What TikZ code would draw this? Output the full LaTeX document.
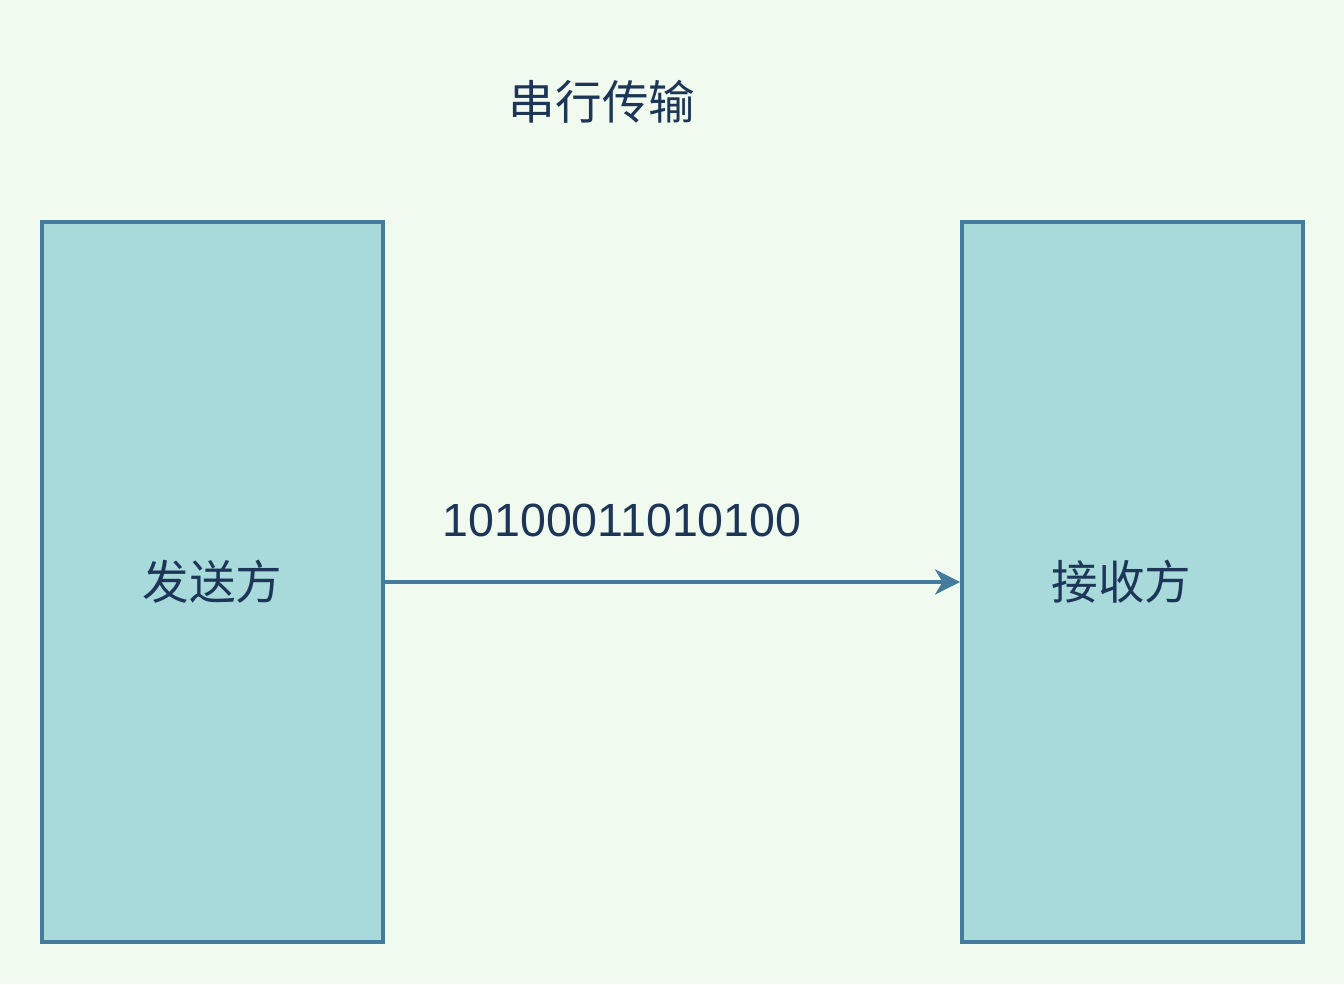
\documentclass[tikz,border=0pt]{standalone}
\usepackage{fontspec}
\setmainfont{Liberation Sans}
\newfontfamily\cjk{Noto Sans CJK SC}
\usetikzlibrary{arrows.meta}
\definecolor{bgcol}{HTML}{F1FAEE}
\definecolor{boxcol}{HTML}{A8DADC}
\definecolor{linecol}{HTML}{457B9D}
\definecolor{txtcol}{HTML}{1D3557}

\begin{document}
\begin{tikzpicture}[
  party/.style={draw=linecol, fill=boxcol, line width=2.2pt, minimum width=6.82cm, minimum height=14.4cm, inner sep=0pt, text=txtcol, font=\cjk\fontsize{26.5}{30}\selectfont},
  lbl/.style={text=txtcol, font=\fontsize{26.5}{30}\selectfont}
]
\fill[bgcol] (0,0) rectangle (26.88,19.68);
\useasboundingbox (0,0) rectangle (26.88,19.68);

\node[lbl, font=\cjk\fontsize{26.5}{30}\selectfont] (title) at (12.04,17.64) {串行传输};

\node[party] (sender) at (4.25,8.04) {发送方};
\node[party, text width=6.82cm, align=center, xshift=0cm] (receiver) at (22.65,8.04) {\hspace*{-0.44cm}接收方};

\node[lbl] (bits) at (12.44,9.28) {10100011010100};

\draw[-{Stealth[length=0.5cm, width=0.5cm, inset=0.15cm]}, draw=linecol, fill=linecol, line width=2.2pt] (sender.east) -- (receiver.west);
\end{tikzpicture}
\end{document}
